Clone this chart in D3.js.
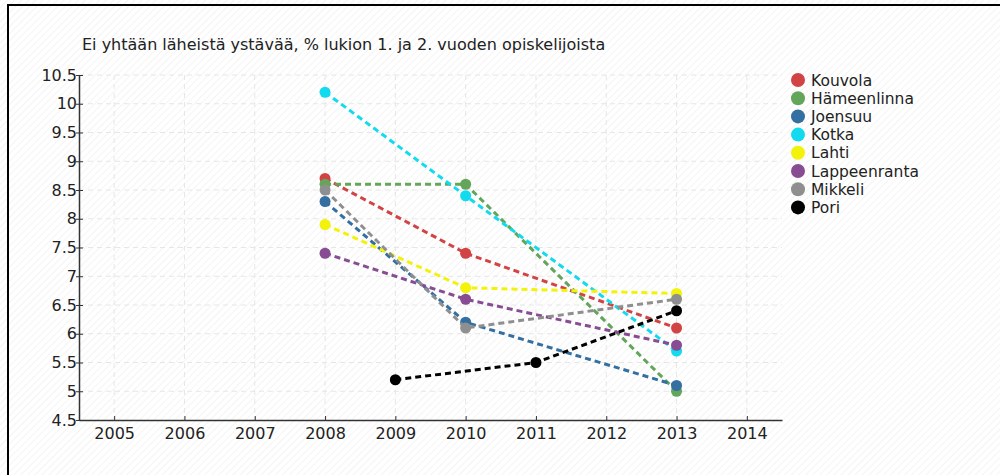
<!DOCTYPE html>
<html>
<head>
<meta charset="utf-8">
<script src="https://cdn.jsdelivr.net/npm/d3@7"></script>
<style>
  body { margin: 0; background: #fff; }
  svg text { font-family: "DejaVu Sans", Verdana, sans-serif; fill: #222; }
</style>
</head>
<body>
<svg id="chart"></svg>
<script>
/* ------------ DATA --------------------------------------------------- */
const title = 'Ei yhtään läheistä ystävää, % lukion 1. ja 2. vuoden opiskelijoista';
const cities = ['Kouvola', 'Hämeenlinna', 'Joensuu', 'Kotka', 'Lahti', 'Lappeenranta', 'Mikkeli', 'Pori'];
const colors = ['#d24343', '#63a65b', '#336fa1', '#12daef', '#f2f20a', '#884c92', '#8f8f8f', '#000000'];
const years = [[2008, 2010, 2013], [2008, 2010, 2013], [2008, 2010, 2013], [2008, 2010, 2013],
               [2008, 2010, 2013], [2008, 2010, 2013], [2008, 2010, 2013], [2009, 2011, 2013]];
const values = [
  [8.7, 7.4, 6.1],
  [8.6, 8.6, 5.0],
  [8.3, 6.2, 5.1],
  [10.2, 8.4, 5.7],
  [7.9, 6.8, 6.7],
  [7.4, 6.6, 5.8],
  [8.5, 6.1, 6.6],
  [5.2, 5.5, 6.4]
];
const xTicks = [2005, 2006, 2007, 2008, 2009, 2010, 2011, 2012, 2013, 2014];
const yTicks = [4.5, 5, 5.5, 6, 6.5, 7, 7.5, 8, 8.5, 9, 9.5, 10, 10.5];

/* ------------ SETUP -------------------------------------------------- */
const W = 1000, H = 475;
const svg = d3.select('#chart').attr('width', W).attr('height', H);

const defs = svg.append('defs');
const pat = defs.append('pattern')
  .attr('id', 'hatch').attr('patternUnits', 'userSpaceOnUse')
  .attr('width', 5).attr('height', 5)
  .attr('patternTransform', 'rotate(45)');
pat.append('rect').attr('width', 5).attr('height', 5).attr('fill', '#fff');
pat.append('line').attr('x1', 0).attr('y1', 0).attr('x2', 0).attr('y2', 5)
  .attr('stroke', '#f1f1f1').attr('stroke-width', 1.5);

svg.append('rect').attr('width', W).attr('height', H).attr('fill', 'url(#hatch)');
svg.append('rect').attr('x', 8).attr('y', 5).attr('width', W + 20).attr('height', H + 20)
  .attr('fill', 'none').attr('stroke', '#000').attr('stroke-width', 2);

const x = d3.scaleLinear().domain([2004.5, 2014.5]).range([79, 782]);
const y = d3.scaleLinear().domain([4.5, 10.5]).range([420, 75]);

/* ------------ GRID --------------------------------------------------- */
const grid = svg.append('g');
grid.selectAll('line.h').data(yTicks.slice(1)).join('line')
  .attr('x1', x.range()[0]).attr('x2', x.range()[1])
  .attr('y1', d => y(d)).attr('y2', d => y(d))
  .attr('stroke', '#e6e6e6').attr('stroke-dasharray', '5,4');
grid.selectAll('line.v').data(xTicks).join('line')
  .attr('x1', d => x(d)).attr('x2', d => x(d))
  .attr('y1', y.range()[1]).attr('y2', y.range()[0])
  .attr('stroke', '#e6e6e6').attr('stroke-dasharray', '5,4');

/* ------------ AXES --------------------------------------------------- */
const xAxis = svg.append('g').attr('transform', `translate(0,${y(4.5)})`)
  .call(d3.axisBottom(x).tickValues(xTicks).tickFormat(d3.format('d')).tickSize(4).tickSizeOuter(0));
const yAxis = svg.append('g').attr('transform', `translate(${x(2004.5)},0)`)
  .call(d3.axisLeft(y).tickValues(yTicks).tickFormat(d => d).tickSize(4).tickSizeOuter(0));
[xAxis, yAxis].forEach(a => {
  a.select('.domain').attr('stroke', '#333').attr('stroke-width', 1.5);
  a.selectAll('.tick line').attr('stroke', '#333');
  a.selectAll('.tick text').attr('font-size', 16).attr('fill', '#222');
});
xAxis.selectAll('.tick line').attr('y2', -4);
xAxis.selectAll('.tick text').attr('y', 8);
yAxis.selectAll('.tick line').attr('x1', 4).attr('x2', -3);
yAxis.selectAll('.tick text').attr('x', -2);

/* ------------ SERIES ------------------------------------------------- */
const line = d3.line().x(d => x(d[0])).y(d => y(d[1]));
cities.forEach((c, i) => {
  const pts = years[i].map((yr, j) => [yr, values[i][j]]);
  const g = svg.append('g');
  g.append('path').datum(pts).attr('d', line)
    .attr('fill', 'none').attr('stroke', colors[i])
    .attr('stroke-width', 3).attr('stroke-dasharray', '6,4');
  g.selectAll('circle').data(pts).join('circle')
    .attr('cx', d => x(d[0])).attr('cy', d => y(d[1])).attr('r', 5.5)
    .attr('fill', colors[i]);
});

/* ------------ TITLE & LEGEND ----------------------------------------- */
svg.append('text').attr('x', 82).attr('y', 50).attr('font-size', 16).text(title);

const legend = svg.append('g').attr('transform', 'translate(798,80)');
legend.selectAll('g').data(cities).join('g')
  .attr('transform', (d, i) => `translate(0,${i * 18.2})`)
  .each(function (d, i) {
    const g = d3.select(this);
    g.append('circle').attr('r', 7).attr('fill', colors[i]);
    g.append('text').attr('x', 13).attr('y', 5.5).attr('font-size', 15.5).text(d);
  });
</script>
</body>
</html>
